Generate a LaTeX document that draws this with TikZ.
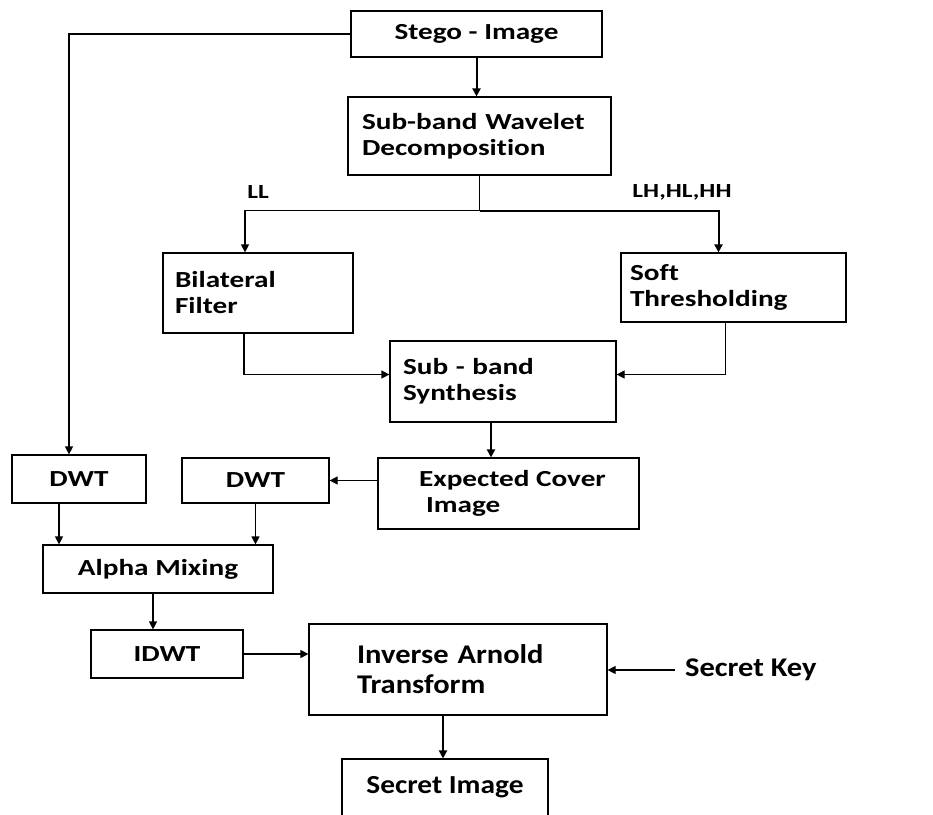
\documentclass[tikz,border=0pt]{standalone}
\usepackage{fontspec}
\usepackage{tikz}
\usetikzlibrary{positioning,arrows.meta}
\newfontfamily\boxfont{Carlito}[FakeStretch=1.27, Ligatures=NoCommon]
\newfontfamily\bigfont{Carlito}[FakeStretch=1.13, Ligatures=NoCommon]

\begin{document}
\begin{tikzpicture}[
    x=1pt, y=-1pt,
    blk/.style={rectangle, draw, line width=1.2pt, inner sep=0pt, font=\boxfont\bfseries\fontsize{23}{26}\selectfont, align=center},
    lblk/.style={blk, align=left},
    arr/.style={-{Triangle[length=8pt,width=8pt]}, line width=1.2pt},
    tarr/.style={arr, line width=2pt},
    lbl/.style={font=\boxfont\bfseries\fontsize{20}{22}\selectfont, inner sep=0pt}
]
\clip (0,0) rectangle (933,814);
\fill[white] (0,0) rectangle (933,814);

\node[blk, minimum width=251pt, minimum height=46pt] (stego) at (476.5,34) {Stego - Image};
\node[lblk, minimum width=263pt, minimum height=78pt, text width=235pt] (wavelet) at (479.5,136) {Sub-band Wavelet\\Decomposition};
\node[lblk, minimum width=190pt, minimum height=80pt, text width=166pt] (bilat) at (258,293) {Bilateral\\Filter};
\node[lblk, minimum width=225pt, minimum height=69pt, text width=207pt] (soft) at (733.5,287.5) {Soft\\Thresholding};
\node[lblk, minimum width=226pt, minimum height=81pt, text width=200pt] (synth) at (503,381.5) {Sub - band\\Synthesis};
\node[lblk, minimum width=261pt, minimum height=71pt] (cover) at (508.5,493.5) {\hspace*{8pt}Expected Cover\\\hspace*{15pt}Image};
\node[blk, minimum width=134pt, minimum height=48pt] (dwta) at (79,479) {DWT};
\node[blk, minimum width=147pt, minimum height=45pt] (dwtb) at (255.5,480.5) {DWT};
\node[blk, minimum width=230pt, minimum height=48pt] (alpha) at (158,569) {Alpha Mixing};
\node[blk, minimum width=152pt, minimum height=48pt] (idwt) at (167,654) {IDWT};
\node[lblk, minimum width=298pt, minimum height=91pt, text width=202pt,
      font=\bigfont\bfseries\fontsize{27}{30}\selectfont] (inverse) at (458,669.5) {Inverse Arnold\\Transform};
\node[blk, minimum width=206pt, minimum height=57pt,
      font=\bigfont\bfseries\fontsize{26}{28}\selectfont] (secimg) at (445,787.5) {Secret Image};
\node[anchor=west, inner sep=0pt, font=\bigfont\bfseries\fontsize{27}{30}\selectfont] (key) at (685,670) {Secret Key};

\node[lbl] (ll) at (258,192) {LL};
\node[lbl] (lh) at (682,192) {LH,HL,HH};

% decomposition and its two sub-bands
\draw[tarr] (stego.south) -- (stego.south |- wavelet.north);
\draw[line width=1.2pt] (wavelet.south) -- ++(0,35) coordinate (split);
\draw[arr] (split) -| ([xshift=-13pt]bilat.north);
\draw[tarr] (split) -| ([xshift=-15pt]soft.north);
\draw[arr] ([xshift=-14pt]bilat.south) |- ([yshift=7pt]synth.west);
\draw[arr] ([xshift=-8pt]soft.south) |- ([yshift=7pt]synth.east);
\draw[tarr] ([xshift=-12pt]synth.south) -- ([xshift=-12pt]synth.south |- cover.north);

% mixing branch
\draw[arr] (stego.west) -| ([xshift=-10pt]dwta.north);
\draw[arr] (cover.west |- dwtb.east) -- (dwtb.east);
\draw[arr] ([xshift=-20pt]dwta.south) -- ([xshift=-20pt]dwta.south |- alpha.north);
\draw[arr] (dwtb.south) -- (dwtb.south |- alpha.north);
\draw[arr] ([xshift=-5pt]alpha.south) -- ([xshift=-5pt]alpha.south |- idwt.north);
\draw[arr] (idwt.east) -- (idwt.east -| inverse.west);
\draw[arr] ([xshift=-10pt]key.west) -- (key.west -| inverse.east);
\draw[tarr] ([xshift=-15pt]inverse.south) -- ([xshift=-15pt]inverse.south |- secimg.north);
\end{tikzpicture}
\end{document}
